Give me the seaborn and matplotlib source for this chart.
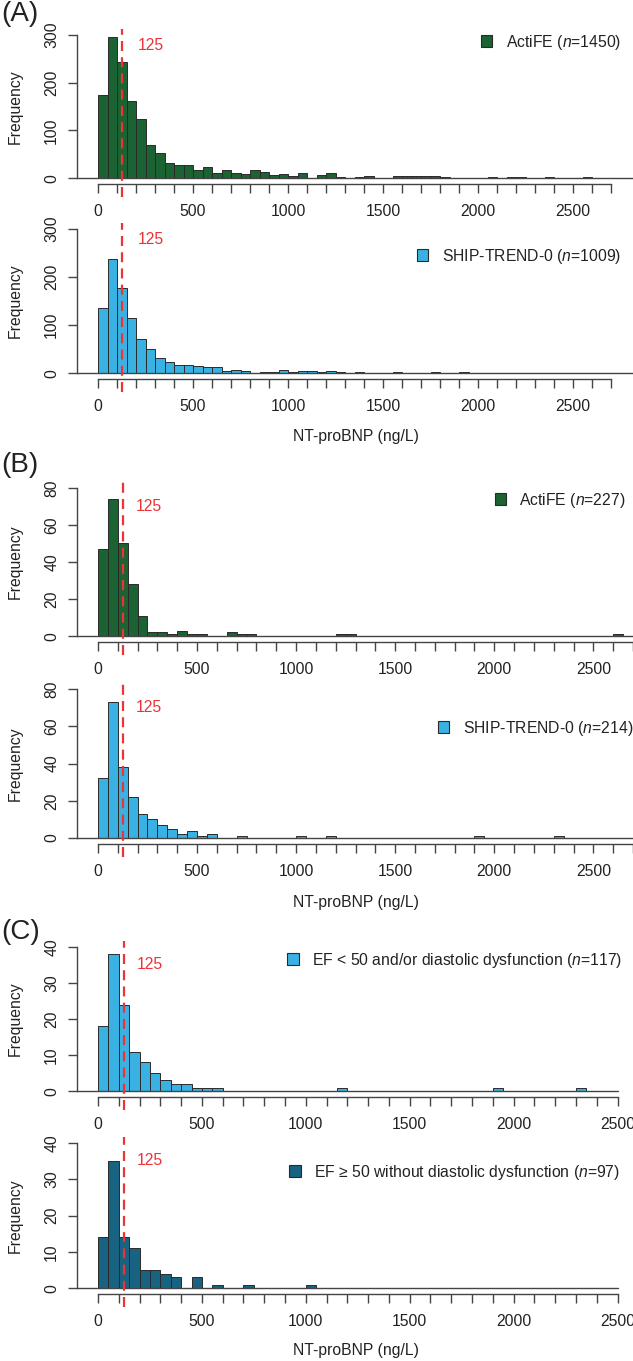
import numpy as np
import pandas as pd
import matplotlib
matplotlib.use('Agg')
import matplotlib.pyplot as plt
import seaborn as sns
from matplotlib.patches import Patch

# NT-proBNP histograms, bins of 50 ng/L starting at 0 (counts)
actife_all = [173, 295, 243, 161, 123, 69, 52, 32, 27, 27,
              18, 23, 12, 17, 10, 8, 17, 13, 6, 8,
              5, 10, 1, 7, 10, 3, 0, 3, 5, 1,
              0, 5, 4, 4, 5, 4, 3, 1, 1, 1,
              0, 2, 0, 2, 2, 1, 1, 2, 1, 0,
              1, 2, 0, 1, 0, 1]
ship_all = [136, 237, 176, 115, 71, 51, 31, 24, 18, 17,
            14, 13, 12, 5, 6, 4, 1, 2, 3, 6,
            3, 5, 5, 3, 5, 2, 1, 3, 1, 0,
            0, 2, 1, 0, 1, 3, 1, 0, 3, 1,
            1, 0, 1, 0, 0, 0, 1, 0, 0, 0,
            0, 0, 0, 0, 1, 0]
actife_sub = [47, 74, 50, 28, 11, 2, 2, 1, 3, 1,
              1, 0, 0, 2, 1, 1, 0, 0, 0, 0,
              0, 0, 0, 0, 1, 1, 0, 0, 0, 0,
              0, 0, 0, 0, 0, 0, 0, 0, 0, 0,
              0, 0, 0, 0, 0, 0, 0, 0, 0, 0,
              0, 0, 1]
ship_sub = [32, 73, 38, 22, 13, 10, 7, 5, 2, 4,
            1, 2, 0, 0, 1, 0, 0, 0, 0, 0,
            1, 0, 0, 1, 0, 0, 0, 0, 0, 0,
            0, 0, 0, 0, 0, 0, 0, 0, 1, 0,
            0, 0, 0, 0, 0, 0, 1]
ef_low = [18, 38, 24, 11, 8, 5, 3, 2, 2, 1,
          1, 1, 0, 0, 0, 0, 0, 0, 0, 0,
          0, 0, 0, 1, 0, 0, 0, 0, 0, 0,
          0, 0, 0, 0, 0, 0, 0, 0, 1, 0,
          0, 0, 0, 0, 0, 0, 1]
ef_norm = [14, 35, 14, 11, 5, 5, 4, 3, 0, 3,
           0, 1, 0, 0, 1, 0, 0, 0, 0, 0,
           1]

labels = ['ActiFE ($n$=1450)', 'SHIP-TREND-0 ($n$=1009)',
          'ActiFE ($n$=227)', 'SHIP-TREND-0 ($n$=214)',
          'EF < 50 and/or diastolic dysfunction ($n$=117)',
          'EF \u2265 50 without diastolic dysfunction ($n$=97)']
cutoff = 125

GREEN = '#1b6332'
BLUE = '#39b2e3'
TEAL = '#186282'
RED = '#ec3437'
EDGE = '#2a2a2a'
AXC = '#444444'
TXT = '#222222'
FS = 11.3

sns.set_theme(style='white')
plt.rcParams['font.family'] = ['Liberation Sans', 'DejaVu Sans']
plt.rcParams['mathtext.fontset'] = 'custom'
plt.rcParams['mathtext.rm'] = 'Liberation Sans'
plt.rcParams['mathtext.it'] = 'Liberation Sans:italic'

W, H = 633, 1361
AX_L = 77      # pixel column of the y axis
ZERO = 98      # pixel column of x = 0
fig = plt.figure(figsize=(W / 100, H / 100), dpi=100)


def fx(x):
    return x / W


def fy(y):
    return 1 - y / H


def panel(top, bottom, counts, color, ymax, ystep, xscale, tick_end, base_end,
          label, ty, leg_x, leg_y, tx):
    ax = fig.add_axes([fx(AX_L), fy(bottom), fx(W - AX_L), (bottom - top) / H])
    edges = np.arange(len(counts) + 1) * 50
    df = pd.DataFrame({'mid': edges[:-1] + 25.0, 'n': np.asarray(counts, dtype=float)})
    sns.histplot(data=df, x='mid', weights='n', bins=list(edges), color=color, alpha=1,
                 edgecolor=EDGE, linewidth=0.7, ax=ax)
    x0 = -(ZERO - AX_L) / xscale
    x1 = (W - ZERO) / xscale
    ax.set_xlim(x0, x1)
    ax.set_ylim(-0.04 * ymax, 1.04 * ymax)
    ax.set_xlabel('')
    ax.set_ylabel('')
    for s in ['top', 'right']:
        ax.spines[s].set_visible(False)
    for s in ['left', 'bottom']:
        ax.spines[s].set_color(AXC)
        ax.spines[s].set_linewidth(1.0)
    ax.spines['left'].set_bounds(0, ymax)
    ax.spines['bottom'].set_bounds(0, tick_end)
    ticks = np.arange(0, tick_end + 1, 100)
    ax.set_xticks(ticks)
    ax.set_xticklabels([str(t) if t % 500 == 0 else '' for t in ticks])
    ax.set_yticks(np.arange(0, ymax + 1, ystep))
    ax.tick_params(axis='both', direction='out', length=6.2, width=1.0, color=AXC,
                   labelsize=FS, labelcolor=TXT, bottom=True, left=True)
    ax.tick_params(axis='x', pad=8.0)
    ax.tick_params(axis='y', pad=6.6)
    for t in ax.get_yticklabels():
        t.set_rotation(90)
        t.set_va('center')
    ax.plot([x0, base_end], [0, 0], color=AXC, lw=1.0, clip_on=False)
    ax.plot([cutoff, cutoff], [-0.13 * ymax, 1.04 * ymax], color=RED, lw=1.6,
            dashes=(4.5, 2.8), clip_on=False, zorder=5)
    ax.text(tx, ty, str(cutoff), color=RED, fontsize=FS, ha='center', va='center')
    h = Patch(facecolor=color, edgecolor=EDGE, linewidth=0.8)
    ax.legend([h], [label], loc='center right', bbox_to_anchor=(fx(leg_x), fy(leg_y)),
              bbox_transform=fig.transFigure, frameon=False, borderpad=0,
              borderaxespad=0, handlelength=0.72, handleheight=0.72,
              handletextpad=0.85, fontsize=FS, labelcolor=TXT)
    fig.text(fx(15), fy((top + bottom) / 2), 'Frequency', rotation=90,
             ha='center', va='center', fontsize=FS, color=TXT)
    return ax


# (A) full cohorts
panel(29, 184, actife_all, GREEN, 300, 100, 0.19, 2700, 3000,
      labels[0], 278, 621, 42, 280)
panel(223, 379, ship_all, BLUE, 300, 100, 0.19, 2700, 3000,
      labels[1], 278, 621, 256, 280)
# (B) subgroups
panel(482, 642, actife_sub, GREEN, 80, 20, 0.199, 2700, 3000,
      labels[2], 70, 626, 500, 258)
panel(683, 844, ship_sub, BLUE, 80, 20, 0.199, 2700, 3000,
      labels[3], 70, 633, 728, 258)
# (C) SHIP by echo findings
panel(941, 1097, ef_low, BLUE, 40, 10, 0.2078, 2500, 2500,
      labels[4], 35, 622, 960, 250)
panel(1137, 1294, ef_norm, TEAL, 40, 10, 0.2078, 2500, 2500,
      labels[5], 35, 620, 1172, 250)

for y in [436, 902, 1350]:
    fig.text(fx(356), fy(y), 'NT-proBNP (ng/L)', ha='center', va='center',
             fontsize=FS, color=TXT)
for txt, y in [('(A)', 14), ('(B)', 465), ('(C)', 932)]:
    fig.text(fx(1), fy(y), txt, ha='left', va='center', fontsize=20, color=TXT)

fig.savefig('out.png', dpi=100)
